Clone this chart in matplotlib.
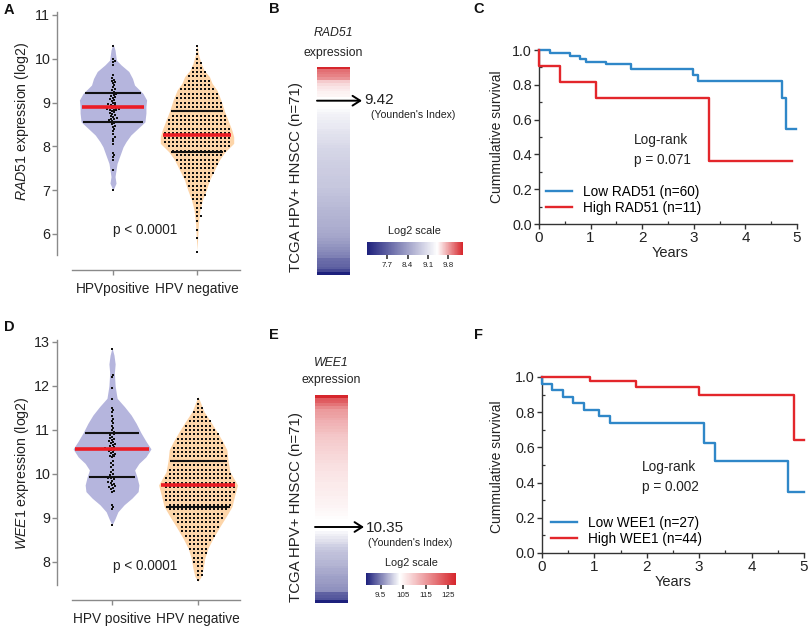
import numpy as np
import matplotlib
matplotlib.use("Agg")
import matplotlib.pyplot as plt
from matplotlib.colors import LinearSegmentedColormap, Normalize
from matplotlib.cm import ScalarMappable
from matplotlib.lines import Line2D
from matplotlib.ticker import MultipleLocator, FixedLocator, FixedFormatter

plt.rcParams['font.family'] = ['Liberation Sans', 'DejaVu Sans']
plt.rcParams['mathtext.fontset'] = 'custom'
plt.rcParams['mathtext.rm'] = 'Liberation Sans'
plt.rcParams['mathtext.it'] = 'Liberation Sans:italic'

# ------------------------------------------------------------------ data
groups_A = ["HPVpositive", "HPV negative"]
groups_D = ["HPV positive", "HPV negative"]

# RAD51 expression of the 71 HPV+ tumours (also the heatmap of panel B)
rad51_hpv_pos = [10.30, 10.00, 9.96, 9.92, 9.85, 9.62, 9.56, 9.52, 9.50, 9.47, 9.45,
                 9.40, 9.35, 9.30, 9.28, 9.25, 9.22, 9.20, 9.18, 9.15, 9.12,
                 9.10, 9.08, 9.05, 9.03, 9.00, 8.98, 8.96, 8.95, 8.94, 8.92,
                 8.90, 8.89, 8.88, 8.87, 8.86, 8.85, 8.84, 8.83, 8.82, 8.80,
                 8.78, 8.76, 8.74, 8.72, 8.70, 8.68, 8.65, 8.63, 8.62, 8.60,
                 8.58, 8.56, 8.55, 8.53, 8.50, 8.47, 8.45, 8.40, 8.35, 8.28,
                 8.22, 8.18, 8.12, 8.05, 7.85, 7.80, 7.75, 7.68, 7.45, 7.00]
# RAD51 HPV-negative: number of tumours per expression level
rad51_neg_levels = [5.6, 5.7, 5.8, 5.9, 6.0, 6.1, 6.2, 6.3, 6.4, 6.5, 6.6, 6.7, 6.8, 6.9,
                    7.0, 7.1, 7.2, 7.3, 7.4, 7.5, 7.6, 7.7, 7.8, 7.9, 8.0, 8.1, 8.2, 8.3,
                    8.4, 8.5, 8.6, 8.7, 8.8, 8.9, 9.0, 9.1, 9.2, 9.3, 9.4, 9.5, 9.6, 9.7,
                    9.8, 9.9, 10.0, 10.1, 10.2, 10.3]
rad51_neg_counts = [1, 0, 0, 1, 0, 1, 0, 1, 2, 1, 2, 2, 3, 4,
                    4, 5, 6, 7, 8, 9, 10, 11, 12, 14, 16, 17, 17, 17,
                    16, 15, 15, 14, 13, 12, 12, 11, 10, 9, 7, 6, 5, 4,
                    3, 2, 1, 1, 1, 1]
# violin outlines (expression value, relative width)
rad51_pos_outline_v = [7.00, 7.16, 7.31, 7.61, 7.80, 7.99, 8.11, 8.26, 8.41, 8.56, 8.76,
                       8.91, 9.06, 9.21, 9.40, 9.55, 9.71, 9.86, 9.97, 10.20, 10.34]
rad51_pos_outline_w = [0.0, 0.09, 0.06, 0.12, 0.21, 0.30, 0.39, 0.53, 0.74, 0.95, 0.98,
                       0.98, 1.0, 0.89, 0.64, 0.58, 0.47, 0.24, 0.10, 0.06, 0.0]
rad51_neg_outline_v = [5.63, 6.25, 6.55, 6.78, 7.00, 7.23, 7.47, 7.69, 7.87, 8.07, 8.22,
                       8.37, 8.61, 8.80, 9.06, 9.29, 9.44, 9.59, 9.74, 9.90, 10.10, 10.34]
rad51_neg_outline_w = [0.0, 0.04, 0.08, 0.15, 0.25, 0.34, 0.48, 0.61, 0.76, 1.0, 1.0,
                       0.95, 0.84, 0.75, 0.65, 0.54, 0.41, 0.34, 0.19, 0.11, 0.04, 0.0]
rad51_median = [8.91, 8.25]
rad51_q1 = [8.56, 7.87]
rad51_q3 = [9.21, 8.80]
rad51_cutoff = 9.42

wee1_hpv_pos = [12.85, 12.25, 12.20, 11.95, 11.70, 11.50, 11.45, 11.40, 11.32, 11.25,
                11.20, 11.15, 11.10, 11.05, 11.00, 10.96, 10.93, 10.90, 10.88, 10.85,
                10.82, 10.80, 10.78, 10.75, 10.72, 10.70, 10.68, 10.66, 10.64, 10.62,
                10.60, 10.58, 10.57, 10.56, 10.55, 10.54, 10.52, 10.50, 10.48, 10.46,
                10.44, 10.42, 10.40, 10.38,
                10.30, 10.25, 10.20, 10.15, 10.10, 10.05, 10.00, 9.97, 9.94, 9.92,
                9.90, 9.88, 9.85, 9.82, 9.80, 9.78, 9.75, 9.72, 9.70, 9.68,
                9.65, 9.62, 9.60, 9.30, 9.25, 9.20, 8.85]
wee1_neg_levels = [7.6, 7.7, 7.8, 7.9, 8.0, 8.1, 8.2, 8.3, 8.4, 8.5, 8.6, 8.7, 8.8, 8.9,
                   9.0, 9.1, 9.2, 9.3, 9.4, 9.5, 9.6, 9.7, 9.8, 9.9, 10.0, 10.1, 10.2,
                   10.3, 10.4, 10.5, 10.6, 10.7, 10.8, 10.9, 11.0, 11.1, 11.2, 11.3,
                   11.4, 11.5, 11.6, 11.7]
wee1_neg_counts = [1, 2, 2, 2, 3, 3, 4, 5, 5, 6, 8, 9, 10, 11,
                   12, 13, 15, 16, 17, 17, 18, 18, 18, 17, 16, 15, 14,
                   14, 14, 13, 13, 12, 11, 10, 8, 7, 6, 4,
                   3, 2, 1, 1]
wee1_pos_outline_v = [8.84, 8.99, 9.14, 9.30, 9.45, 9.60, 9.75, 9.93, 10.09, 10.24, 10.39,
                      10.57, 10.73, 10.94, 11.15, 11.34, 11.53, 11.72, 12.0, 12.3, 12.5,
                      12.7, 12.87]
wee1_pos_outline_w = [0.0, 0.08, 0.15, 0.31, 0.51, 0.67, 0.69, 0.64, 0.58, 0.69, 0.87,
                      1.0, 0.88, 0.74, 0.62, 0.49, 0.32, 0.13, 0.08, 0.06, 0.08, 0.05, 0.0]
wee1_neg_outline_v = [7.56, 7.67, 7.86, 8.08, 8.31, 8.54, 8.80, 9.03, 9.26, 9.52, 9.75,
                      10.05, 10.30, 10.55, 10.73, 10.96, 11.19, 11.42, 11.65, 11.76]
wee1_neg_outline_w = [0.0, 0.08, 0.13, 0.17, 0.25, 0.38, 0.55, 0.71, 0.86, 0.93, 1.0,
                      0.81, 0.76, 0.73, 0.63, 0.48, 0.32, 0.15, 0.05, 0.0]
wee1_median = [10.57, 9.75]
wee1_q1 = [9.93, 9.26]
wee1_q3 = [10.94, 10.30]
wee1_cutoff = 10.35

rad51_cbar_ticks = [7.7, 8.4, 9.1, 9.8]
rad51_cbar_labels = ["7.7", "8.4", "9.1", "9.8"]
wee1_cbar_ticks = [9.5, 10.5, 11.5, 12.5]
wee1_cbar_labels = ["9.5", "105", "115", "125"]

# Kaplan-Meier curves (time in years, survival after each step)
km_c_low_t = [0, 0.21, 0.60, 0.79, 0.91, 1.30, 1.79, 2.99, 3.09, 4.71, 4.79, 4.99]
km_c_low_s = [1.0, 0.983, 0.967, 0.950, 0.933, 0.917, 0.889, 0.856, 0.822, 0.726, 0.544, 0.544]
km_c_high_t = [0, 0, 0.40, 1.10, 3.30, 4.90]
km_c_high_s = [1.0, 0.909, 0.818, 0.727, 0.364, 0.364]
km_f_low_t = [0, 0, 0.20, 0.40, 0.60, 0.80, 1.08, 1.30, 3.10, 3.30, 4.70, 5.0]
km_f_low_s = [1.0, 0.963, 0.926, 0.889, 0.852, 0.815, 0.778, 0.741, 0.627, 0.523, 0.348, 0.348]
km_f_high_t = [0, 0.91, 1.80, 3.00, 4.80, 5.0]
km_f_high_s = [1.0, 0.977, 0.945, 0.895, 0.643, 0.643]
km_c_labels = ["Low RAD51 (n=60)", "High RAD51 (n=11)"]
km_f_labels = ["Low WEE1 (n=27)", "High WEE1 (n=44)"]
km_c_p = "p = 0.071"
km_f_p = "p = 0.002"

# ------------------------------------------------------------------ styling
W, H = 812, 626
fig = plt.figure(figsize=(W / 100, H / 100), dpi=100)

def fx(x):
    return x / W

def fy(y):
    return 1 - y / H

def box(l, t, r, b):
    return [l / W, 1 - b / H, (r - l) / W, (b - t) / H]

LAV = "#b5b5dd"
PEACH = "#fdd5a9"
MED_RED = "#ec1c24"
NAVY = "#1d207c"
HM_RED = "#d6262c"
KM_BLUE = "#2f87c8"
KM_RED = "#e3262b"
AX_GRAY = "#8a8a8a"
TXT = "#222222"


def swarm(values, d, sx, sy):
    vals = np.asarray(values, float)
    order = np.argsort(vals, kind="stable")
    py = vals * sy
    out = np.zeros(len(vals))
    pys, pxs = [], []
    for i in order:
        y = py[i]
        near = [(yy, xx) for yy, xx in zip(pys, pxs) if abs(yy - y) < d]
        cands = [0.0]
        for yy, xx in near:
            dx = np.sqrt(d * d - (yy - y) ** 2)
            cands += [xx + dx, xx - dx]
        cands = sorted(cands, key=lambda c: (abs(c), -c))
        for c in cands:
            if all((c - xx) ** 2 + (y - yy) ** 2 >= d * d - 1e-6 for yy, xx in near):
                out[i] = c
                break
        pys.append(y)
        pxs.append(out[i])
    return out / sx


def violin_panel(ax, pos_vals, neg_levels, neg_counts, outlines, maxw, med, q1, q3,
                 sx, sy, labels, yticks):
    colors = [LAV, PEACH]
    neg_vals = np.repeat(neg_levels, neg_counts)
    for k, (v, w) in enumerate(outlines):
        vv = np.linspace(min(v), max(v), 400)
        ww = np.interp(vv, v, w) * maxw[k]
        ax.fill_betweenx(vv, k - ww, k + ww, color=colors[k], lw=0, zorder=1)
    pos_off = swarm(pos_vals, 2.6, sx, sy)
    neg_off = swarm(neg_vals, 4.0, sx, sy)
    ax.scatter(0 + pos_off, pos_vals, s=2.8, marker="s", c="#111111", lw=0, zorder=2)
    ax.scatter(1 + neg_off, neg_vals, s=2.8, marker="s", c="#111111", lw=0, zorder=2)
    for k, (v, w) in enumerate(outlines):
        for val, col, lw in [(q1[k], "#111111", 1.5), (q3[k], "#111111", 1.5),
                             (med[k], MED_RED, 2.6)]:
            hw = np.interp(val, v, w) * maxw[k] * 0.94
            ax.plot([k - hw, k + hw], [val, val], color=col, lw=lw,
                    solid_capstyle="butt", zorder=3)
    for s in ["top", "right"]:
        ax.spines[s].set_visible(False)
    for s in ["left", "bottom"]:
        ax.spines[s].set_color(AX_GRAY)
        ax.spines[s].set_linewidth(1.0)
    ax.set_xticks([0, 1])
    ax.set_xticklabels(labels, fontsize=9.8, color=TXT)
    ax.set_yticks(yticks)
    ax.set_yticklabels([str(t) for t in yticks], fontsize=10.3, color=TXT)
    ax.tick_params(axis="both", direction="out", length=3.6, width=1.0, color=AX_GRAY)
    ax.tick_params(axis="y", pad=1.2)
    ax.tick_params(axis="x", pad=5)


# ---------------- panel A
axA = fig.add_axes(box(57, 12, 240, 270))
axA.set_xlim(-0.667, 1.512)
axA.set_ylim(5.178, 11.068)
violin_panel(axA, rad51_hpv_pos, rad51_neg_levels, rad51_neg_counts,
             [(rad51_pos_outline_v, rad51_pos_outline_w),
              (rad51_neg_outline_v, rad51_neg_outline_w)],
             [0.40, 0.437], rad51_median, rad51_q1, rad51_q3, 84, 43.8,
             groups_A, [6, 7, 8, 9, 10, 11])
axA.spines["left"].set_bounds(5.52, 11.068)
axA.spines["bottom"].set_bounds(-0.488, 1.512)
fig.text(fx(145), fy(230), "p < 0.0001", fontsize=9.8, color=TXT, ha="center", va="center")
fig.text(fx(22), fy(121), r"$\mathit{RAD51}$ expression (log2)", rotation=90,
         fontsize=10.2, color=TXT, ha="center", va="center")

# ---------------- panel D
axD = fig.add_axes(box(57, 340, 240, 600))
axD.set_xlim(-0.64, 1.488)
axD.set_ylim(7.136, 13.045)
violin_panel(axD, wee1_hpv_pos, wee1_neg_levels, wee1_neg_counts,
             [(wee1_pos_outline_v, wee1_pos_outline_w),
              (wee1_neg_outline_v, wee1_neg_outline_w)],
             [0.453, 0.459], wee1_median, wee1_q1, wee1_q3, 86, 44,
             groups_D, [8, 9, 10, 11, 12, 13])
axD.spines["left"].set_bounds(7.477, 13.045)
axD.spines["bottom"].set_bounds(-0.465, 1.488)
fig.text(fx(145), fy(566), "p < 0.0001", fontsize=9.8, color=TXT, ha="center", va="center")
fig.text(fx(22), fy(473), r"$\mathit{WEE1}$ expression (log2)", rotation=90,
         fontsize=10.2, color=TXT, ha="center", va="center")


# ---------------- heatmaps B / E
def heat_panel(vals, cutoff, bar, hi_blk, lo_blk, arrow_y, arrow_tip, gene, title_y,
               cut_txt, cut_xy, you_xy, log_xy, cbar_box, ticks, ticklabels, ylab_y):
    vmin, vmax = min(vals), max(vals)
    c = (cutoff - vmin) / (vmax - vmin)
    cmap = LinearSegmentedColormap.from_list("bwr_c", [(0, NAVY), (c, "white"), (1, HM_RED)])
    norm = Normalize(vmin=vmin, vmax=vmax)
    srt = sorted(vals, reverse=True)
    hi = np.array([v for v in srt if v > cutoff])[:, None]
    lo = np.array([v for v in srt if v <= cutoff])[:, None]
    l, t, r, b = bar
    ax = fig.add_axes(box(l, t, r, b))
    ax.imshow(hi, cmap=cmap, norm=norm, aspect="auto", interpolation="nearest",
              extent=(0, 1, hi_blk[1], hi_blk[0]))
    ax.imshow(lo, cmap=cmap, norm=norm, aspect="auto", interpolation="nearest",
              extent=(0, 1, lo_blk[1], lo_blk[0]))
    ax.set_xlim(0, 1)
    ax.set_ylim(b, t)
    ax.axis("off")
    ax.annotate("", xy=((arrow_tip - l) / (r - l), arrow_y), xytext=(0, arrow_y),
                xycoords="data", annotation_clip=False,
                arrowprops=dict(arrowstyle="->,head_length=0.55,head_width=0.35",
                                lw=1.4, color="black", shrinkA=0, shrinkB=0))
    cx = (l + r) / 2
    fig.text(fx(cx), fy(title_y[0]), gene, style="italic", fontsize=8.8, color=TXT,
             ha="center", va="center")
    fig.text(fx(cx), fy(title_y[1]), "expression", fontsize=8.8, color=TXT,
             ha="center", va="center")
    fig.text(fx(cut_xy[0]), fy(cut_xy[1]), cut_txt, fontsize=11, color=TXT,
             ha="left", va="center")
    fig.text(fx(you_xy[0]), fy(you_xy[1]), "(Younden's Index)", fontsize=7.6, color=TXT,
             ha="center", va="center")
    fig.text(fx(log_xy[0]), fy(log_xy[1]), "Log2 scale", fontsize=7.8, color=TXT,
             ha="center", va="center")
    fig.text(fx(296), fy(ylab_y), "TCGA HPV+ HNSCC (n=71)", rotation=90, fontsize=10.8,
             color=TXT, ha="center", va="center")
    cax = fig.add_axes(box(*cbar_box))
    cb = fig.colorbar(ScalarMappable(norm=norm, cmap=cmap), cax=cax, orientation="horizontal")
    cb.outline.set_visible(False)
    cax.xaxis.set_major_locator(FixedLocator(ticks))
    cax.xaxis.set_major_formatter(FixedFormatter(ticklabels))
    cax.xaxis.set_minor_locator(FixedLocator([]))
    cax.tick_params(axis="x", labelsize=5.8, length=3, width=1.1, color="#222222",
                    pad=2, labelcolor=TXT)


heat_panel(rad51_hpv_pos, rad51_cutoff, (317, 67, 350, 275), (67, 97.5), (106.5, 275),
           100.7, 362, "RAD51", (33, 53), "9.42", (364, 100.5), (413, 115), (414, 231),
           (367, 242, 463, 255), rad51_cbar_ticks, rad51_cbar_labels, 177)
heat_panel(wee1_hpv_pos, wee1_cutoff, (315, 395, 348, 603), (395, 519), (531, 603),
           527, 364, "WEE1", (363, 380), "10.35", (366, 527.5), (410, 543), (411, 563),
           (366, 573, 456, 585), wee1_cbar_ticks, wee1_cbar_labels, 507)


# ---------------- Kaplan-Meier C / F
def km_panel(bx, low_t, low_s, high_t, high_s, labels, ptxt, lr_xy, leg_xy, ylab_xy, yrs_xy):
    ax = fig.add_axes(box(*bx))
    ax.step(low_t, low_s, where="post", color=KM_BLUE, lw=1.7, clip_on=False, zorder=3)
    ax.step(high_t, high_s, where="post", color=KM_RED, lw=1.7, clip_on=False, zorder=3)
    ax.set_xlim(0, 5)
    ax.set_ylim(0, 1.0)
    for s in ["top", "right"]:
        ax.spines[s].set_visible(False)
    for s in ["left", "bottom"]:
        ax.spines[s].set_color("#333333")
        ax.spines[s].set_linewidth(1.0)
    ax.set_xticks([0, 1, 2, 3, 4, 5])
    ax.set_yticks([0.0, 0.2, 0.4, 0.6, 0.8, 1.0])
    ax.set_yticklabels(["0.0", "0.2", "0.4", "0.6", "0.8", "1.0"])
    ax.xaxis.set_minor_locator(MultipleLocator(0.5))
    ax.yaxis.set_minor_locator(MultipleLocator(0.1))
    ax.tick_params(axis="both", which="major", direction="out", length=3.5, width=1.0,
                   color="#333333", labelcolor=TXT)
    ax.tick_params(axis="both", which="minor", direction="in", length=2.5, width=0.9,
                   color="#333333")
    ax.tick_params(axis="x", which="major", labelsize=11, pad=1.5)
    ax.tick_params(axis="y", which="major", labelsize=10.3, pad=1.5)
    handles = [Line2D([], [], color=KM_BLUE, lw=1.7), Line2D([], [], color=KM_RED, lw=1.7)]
    ax.legend(handles, labels, loc="upper left", bbox_to_anchor=(fx(leg_xy[0]), fy(leg_xy[1])),
              bbox_transform=fig.transFigure, frameon=False, fontsize=9.8,
              handlelength=1.9, handletextpad=0.8, labelspacing=0.15,
              borderpad=0, borderaxespad=0)
    fig.text(fx(lr_xy[0]), fy(lr_xy[1]), "Log-rank", fontsize=9.8, color=TXT,
             ha="left", va="center")
    fig.text(fx(lr_xy[0]), fy(lr_xy[1] + 20), ptxt, fontsize=9.8, color=TXT,
             ha="left", va="center")
    fig.text(fx(ylab_xy[0]), fy(ylab_xy[1]), "Cummulative survival", rotation=90,
             fontsize=10, color=TXT, ha="center", va="center")
    fig.text(fx(yrs_xy[0]), fy(yrs_xy[1]), "Years", fontsize=10.5, color=TXT,
             ha="center", va="center")


km_panel((539, 50, 797, 224), km_c_low_t, km_c_low_s, km_c_high_t, km_c_high_s,
         km_c_labels, km_c_p, (634, 140), (546, 185), (497, 137), (670, 253))
km_panel((542, 377, 804, 553), km_f_low_t, km_f_low_s, km_f_high_t, km_f_high_s,
         km_f_labels, km_f_p, (642, 467), (551, 516), (497, 467), (673, 582))

# ---------------- panel letters
for letter, x, y in [("A", 9, 10), ("B", 274, 9), ("C", 479, 9),
                     ("D", 9, 327), ("E", 274, 335), ("F", 479, 335)]:
    fig.text(fx(x), fy(y), letter, fontsize=10.5, fontweight="bold", color="#111111",
             ha="center", va="center")

fig.savefig("out.png", dpi=100)
